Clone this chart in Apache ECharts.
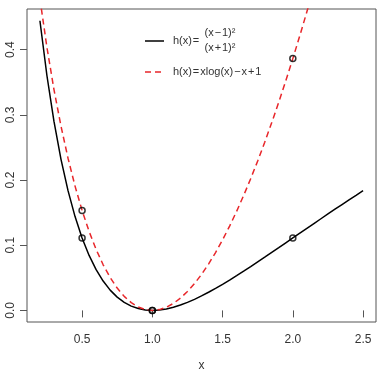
<!DOCTYPE html>
<html>
<head>
<meta charset="utf-8">
<script src="https://cdn.jsdelivr.net/npm/echarts@6/dist/echarts.min.js"></script>
<style>
  html, body { margin: 0; padding: 0; background: #fff; }
  #main { width: 380px; height: 369px; }
</style>
</head>
<body>
<div id="main"></div>
<script>
// sample points along x
var xs = [0.2, 0.25, 0.3, 0.35, 0.4, 0.45, 0.5, 0.55, 0.6, 0.65, 0.7, 0.75, 0.8, 0.85, 0.9, 0.95,
  1.0, 1.05, 1.1, 1.15, 1.2, 1.25, 1.3, 1.35, 1.4, 1.45, 1.5, 1.55, 1.6, 1.65, 1.7, 1.75,
  1.8, 1.85, 1.9, 1.95, 2.0, 2.05, 2.1, 2.15, 2.2, 2.25, 2.3, 2.35, 2.4, 2.45, 2.5];
var hRatio = [0.4444, 0.36, 0.2899, 0.2318, 0.1837, 0.1439, 0.1111, 0.0843, 0.0625, 0.0450, 0.0311, 0.0204,
  0.0123, 0.0066, 0.0028, 0.0007, 0, 0.0006, 0.0023, 0.0049, 0.0083, 0.0123, 0.0170, 0.0222,
  0.0278, 0.0337, 0.04, 0.0465, 0.0533, 0.0602, 0.0672, 0.0744, 0.0816, 0.0890, 0.0963, 0.1037,
  0.1111, 0.1185, 0.1259, 0.1333, 0.1406, 0.1479, 0.1552, 0.1624, 0.1696, 0.1766, 0.1837];
var hLog = [0.4781, 0.4034, 0.3388, 0.2826, 0.2335, 0.1907, 0.1534, 0.1212, 0.0935, 0.0700, 0.0503, 0.0342,
  0.0215, 0.0119, 0.0052, 0.0013, 0, 0.0012, 0.0048, 0.0107, 0.0188, 0.0289, 0.0411, 0.0551,
  0.0711, 0.0888, 0.1082, 0.1293, 0.1520, 0.1763, 0.2021, 0.2293, 0.2580, 0.2881, 0.3195, 0.3523,
  0.3863, 0.4216, 0.4581, 0.4958];
var ptX = [0.5, 1.0, 2.0];
var ptRatio = [0.1111, 0, 0.1111];
var ptLog = [0.1534, 0, 0.3863];
var xTicks = [0.5, 1.0, 1.5, 2.0, 2.5];
var yTicks = [0, 0.1, 0.2, 0.3, 0.4];

var font = '"Liberation Sans", Arial, sans-serif';
var txt = '#333';
var ts = '\u200a';

function pairs(xv, yv) {
  return yv.map(function (v, i) { return [xv[i], v]; });
}

var chart = echarts.init(document.getElementById('main'));
chart.setOption({
  animation: false,
  backgroundColor: '#fff',
  grid: {
    left: 27, right: 4, top: 9, bottom: 47,
    containLabel: false, outerBoundsMode: 'none',
    show: true, borderColor: '#555', borderWidth: 1
  },
  xAxis: {
    type: 'value', min: 0.108, max: 2.592,
    name: 'x', nameLocation: 'middle', nameGap: 38,
    nameTextStyle: { fontFamily: font, fontSize: 12, color: txt },
    splitLine: { show: false },
    axisLine: { show: false },
    axisTick: { show: true, inside: false, length: 7, customValues: xTicks, lineStyle: { color: '#555' } },
    axisLabel: {
      customValues: xTicks, margin: 12, fontFamily: font, fontSize: 12, color: txt,
      formatter: function (v) { return v.toFixed(1); }
    }
  },
  yAxis: {
    type: 'value', min: -0.0178, max: 0.4624,
    splitLine: { show: false },
    axisLine: { show: false },
    axisTick: { show: true, inside: false, length: 7, customValues: yTicks, lineStyle: { color: '#555' } },
    axisLabel: {
      customValues: yTicks, rotate: 90, margin: 10, fontFamily: font, fontSize: 12, color: txt,
      formatter: function (v) { return v.toFixed(1); }
    }
  },
  series: [
    {
      type: 'line', data: pairs(xs, hRatio), showSymbol: false, clip: true,
      lineStyle: { color: '#000', width: 1.5 }
    },
    {
      type: 'line', data: pairs(xs, hLog), showSymbol: false, clip: true,
      lineStyle: { color: '#e8262a', width: 1.5, type: [6, 4] }
    },
    {
      type: 'scatter', data: pairs(ptX, ptRatio), symbol: 'circle', symbolSize: 6,
      itemStyle: { color: 'transparent', borderColor: '#000', borderWidth: 1.5 }, z: 5
    },
    {
      type: 'scatter', data: pairs(ptX, ptLog), symbol: 'circle', symbolSize: 6,
      itemStyle: { color: 'transparent', borderColor: '#000', borderWidth: 1.5 }, z: 5
    }
  ],
  graphic: [
    { type: 'line', shape: { x1: 145, y1: 41, x2: 164, y2: 41 }, style: { stroke: '#000', lineWidth: 1.5 } },
    { type: 'text', x: 173, y: 41, style: { text: 'h(x)' + ts + '=', font: '11px ' + font, fill: txt, textVerticalAlign: 'middle' } },
    { type: 'text', x: 220, y: 33, style: { text: '(x' + ts + '\u2212' + ts + '1)\u00b2', font: '11px ' + font, fill: txt, textAlign: 'center', textVerticalAlign: 'middle' } },
    { type: 'text', x: 220, y: 48, style: { text: '(x' + ts + '+' + ts + '1)\u00b2', font: '11px ' + font, fill: txt, textAlign: 'center', textVerticalAlign: 'middle' } },
    { type: 'line', shape: { x1: 145, y1: 72, x2: 164, y2: 72 }, style: { stroke: '#e8262a', lineWidth: 1.5, lineDash: [6, 4] } },
    { type: 'text', x: 173, y: 72, style: { text: 'h(x)' + ts + '=' + ts + 'xlog(x)' + ts + '\u2212' + ts + 'x' + ts + '+' + ts + '1', font: '11px ' + font, fill: txt, textVerticalAlign: 'middle' } }
  ]
});
</script>
</body>
</html>
